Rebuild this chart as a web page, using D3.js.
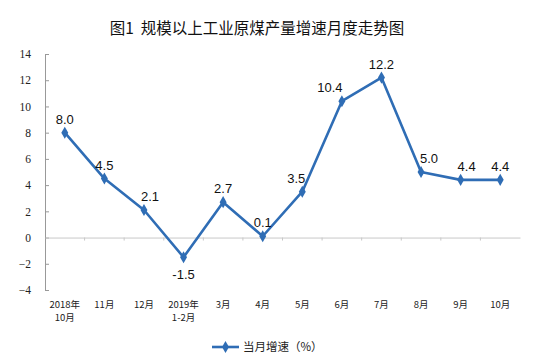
<!DOCTYPE html>
<head>
  <meta charset="utf-8">
  <script src="https://d3js.org/d3.v7.min.js"></script>
  <style>
    body { margin: 0; background: white; }
    svg { display: block; }
    .dlabel { font-family: 'Liberation Sans', Arial, sans-serif; font-size: 13px; fill: #111; }
  </style>
</head>

<body>
  <svg width="542" height="362"></svg>

  <script>
    const months = ['2018年|10月', '11月', '12月', '2019年|1-2月', '3月', '4月', '5月', '6月', '7月', '8月', '9月', '10月'];
    const growth = [8.0, 4.5, 2.1, -1.5, 2.7, 0.1, 3.5, 10.4, 12.2, 5.0, 4.4, 4.4];
    const yTicks = [-4, -2, 0, 2, 4, 6, 8, 10, 12, 14];
    const title = '图1  规模以上工业原煤产量增速月度走势图';
    const seriesName = '当月增速（%）';

    const svg = d3.select('svg');
    const blue = '#2f6db5';

    const x = d3.scaleBand().domain(months).range([45, 520]);
    const y = d3.scaleLinear().domain([-4, 14]).range([290, 54]);
    const cx = d => x(d) + x.bandwidth() / 2;

    svg.append('text')
      .attr('x', 257).attr('y', 34)
      .attr('text-anchor', 'middle')
      .style('font-family', "'Noto Sans CJK SC', sans-serif")
      .style('font-size', '15.5px')
      .style('font-weight', 400)
      .style('white-space', 'pre')
      .attr('fill', '#111')
      .text(title);

    // y axis
    const yAxis = svg.append('g').attr('transform', 'translate(45,0)')
      .call(d3.axisLeft(y).tickValues(yTicks).tickSizeInner(-4).tickSizeOuter(0).tickPadding(14));
    yAxis.attr('font-family', null).attr('font-size', null);
    yAxis.select('.domain').attr('stroke', '#999');
    yAxis.selectAll('.tick line').attr('stroke', '#999');
    yAxis.selectAll('.tick text')
      .style('font-family', "'Liberation Serif', 'Times New Roman', serif")
      .style('font-size', '11.5px')
      .attr('fill', '#222');

    // zero line with category ticks
    const xAxis = svg.append('g').attr('transform', `translate(0,${y(0)})`)
      .call(d3.axisBottom(x).tickSize(0).tickFormat(''));
    xAxis.select('.domain').attr('stroke', '#c8c8c8');
    xAxis.selectAll('.tick').remove();
    xAxis.selectAll('.bnd')
      .data(months.slice(1))
      .enter().append('line')
      .attr('x1', d => x(d)).attr('x2', d => x(d))
      .attr('y1', 0).attr('y2', 3)
      .attr('stroke', '#c8c8c8');

    // category labels at the bottom
    const lab = svg.append('g').selectAll('text')
      .data(months)
      .enter().append('text')
      .style('font-family', "'Noto Sans CJK SC', sans-serif")
      .style('font-size', '9.5px')
      .attr('fill', '#222')
      .attr('text-anchor', 'middle')
      .attr('x', d => cx(d))
      .attr('y', 308);
    lab.each(function (d) {
      const parts = d.split('|');
      d3.select(this).selectAll('tspan')
        .data(parts)
        .enter().append('tspan')
        .attr('x', cx(d))
        .attr('dy', (p, i) => i === 0 ? 0 : 12.5)
        .text(p => p);
    });

    // line
    const line = d3.line()
      .x((v, i) => cx(months[i]))
      .y(v => y(v));
    svg.append('path')
      .datum(growth)
      .attr('d', line)
      .attr('fill', 'none')
      .attr('stroke', blue)
      .attr('stroke-width', 2.6)
      .attr('stroke-linejoin', 'round');

    const diamond = d3.symbol().type(d3.symbolDiamond).size(42);
    svg.append('g').selectAll('path')
      .data(growth)
      .enter().append('path')
      .attr('d', diamond)
      .attr('transform', (v, i) => `translate(${cx(months[i])},${y(v)})`)
      .attr('fill', blue);

    // data labels, nudged sideways where the line would run through them
    const nudge = v => v === 3.5 ? -6 : v === 5.0 ? 8 : v === 10.4 ? -12 : v === 2.1 ? 6 : 0;
    svg.append('g').selectAll('text')
      .data(growth)
      .enter().append('text')
      .attr('class', 'dlabel')
      .attr('text-anchor', 'middle')
      .attr('x', (v, i) => cx(months[i]) + (i === 10 ? 6 : nudge(v)))
      .attr('y', v => v < 0 ? y(v) + 22 : y(v) - 9)
      .text(v => v.toFixed(1));

    // legend
    const lg = svg.append('g').attr('transform', 'translate(212,347)');
    lg.append('line').attr('x1', 0).attr('x2', 27).attr('stroke', blue).attr('stroke-width', 2.6);
    lg.append('path').attr('d', diamond).attr('transform', 'translate(13.5,0)').attr('fill', blue);
    lg.append('text').attr('x', 31).attr('y', 4)
      .style('font-family', "'Noto Sans CJK SC', sans-serif")
      .style('font-size', '11.5px')
      .attr('fill', '#222')
      .text(seriesName);
  </script>
</body>
